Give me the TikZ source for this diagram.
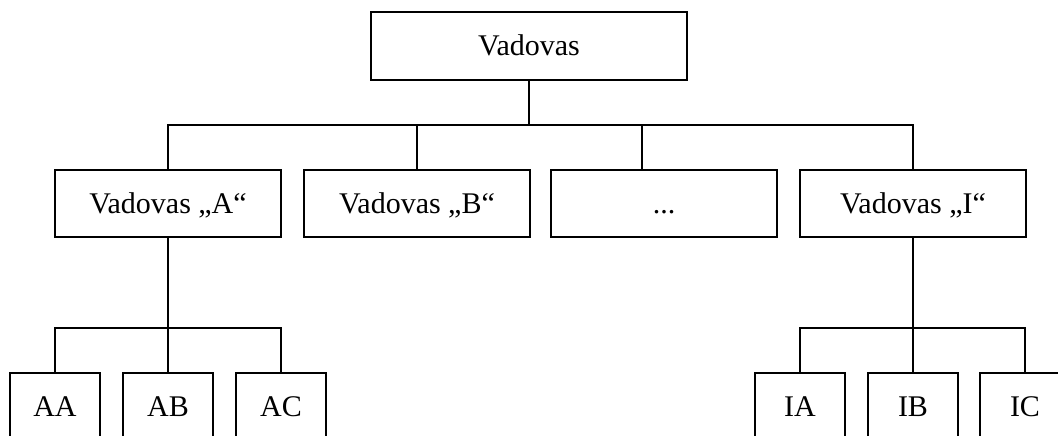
\documentclass[tikz,border=0pt]{standalone}
\usepackage{fontspec}
\setmainfont{Liberation Serif}
\begin{document}
\begin{tikzpicture}[x=0.75pt,y=-0.75pt,
  line width=1.5pt, line join=miter,
  every node/.style={draw, line width=1.5pt, inner sep=0pt,
    font=\fontsize{22.5}{27}\selectfont, text height=14.9pt, text depth=0pt},
  headbox/.style={minimum width=237pt, minimum height=51pt},
  midbox/.style={minimum width=169.5pt, minimum height=50.25pt},
  leafbox/.style={minimum width=67.5pt, minimum height=51pt}]
  \useasboundingbox (0,0) rectangle (1058,436);
  \clip (0,0) rectangle (1058,436);

  % chief
  \node[headbox] (top) at (529,46) {Vadovas};

  % second level
  \node[midbox] (a) at (168,203.5) {Vadovas „A“};
  \node[midbox] (b) at (417,203.5) {Vadovas „B“};
  \node[midbox] (dots) at (664,203.5) {...};
  \node[midbox] (i) at (913,203.5) {Vadovas „I“};

  % third level
  \node[leafbox] (aa) at (55,407) {AA};
  \node[leafbox] (ab) at (168,407) {AB};
  \node[leafbox] (ac) at (281,407) {AC};
  \node[leafbox] (ia) at (800,407) {IA};
  \node[leafbox] (ib) at (913,407) {IB};
  \node[leafbox] (ic) at (1025,407) {IC};

  % bus lines
  \coordinate (bus) at (529,125);
  \coordinate (dotsin) at (642,170);
  \coordinate (abus) at (168,328);
  \coordinate (ibus) at (913,328);

  \draw (top.south) -- (bus);
  \draw (a.north) |- (bus) -| (i.north);
  \draw (b.north) -- (b.north |- bus);
  \draw (dotsin) -- (dotsin |- bus);

  \draw (a.south) -- (abus);
  \draw (aa.north) |- (abus) -| (ac.north);
  \draw (ab.north) -- (abus);

  \draw (i.south) -- (ibus);
  \draw (ia.north) |- (ibus) -| (ic.north);
  \draw (ib.north) -- (ibus);
\end{tikzpicture}
\end{document}
